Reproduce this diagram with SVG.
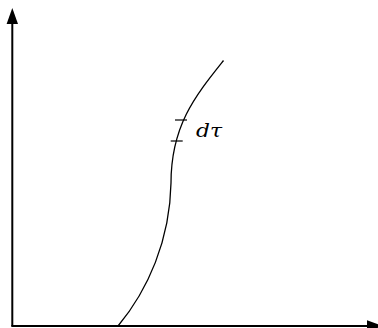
<svg xmlns="http://www.w3.org/2000/svg" width="378" height="328" viewBox="0 0 378 328">
<style>
.axis{stroke:#000;stroke-width:2;fill:none}
.curve{stroke:#000;stroke-width:1.3;fill:none}
.tick{stroke:#000;stroke-width:1.2}
.head{fill:#000}
.lbl{font-family:"DejaVu Serif","Liberation Serif",serif;font-style:italic;font-size:18px;fill:#000}
</style>
<rect width="378" height="328" fill="#fff"/>
<g id="axes">
<line class="axis" x1="12.3" y1="326" x2="12.3" y2="22"/>
<polygon class="head" points="12.3,8 6.6,24 18,24"/>
<line class="axis" x1="11.3" y1="326" x2="369" y2="326"/>
<polygon class="head" points="383,326 367,320.3 367,331.7"/>
</g>
<g id="curve">
<path class="curve" d="M118,326 C148,290 170,240 171,183 C171,125 196,95 223.5,60.5"/>
</g>
<g id="ticks">
<line class="tick" x1="175" y1="120" x2="187" y2="120"/>
<line class="tick" x1="170.7" y1="141" x2="182.7" y2="141"/>
</g>
<g id="label">
<text class="lbl" x="196" y="137" textLength="26" lengthAdjust="spacingAndGlyphs">dτ</text>
</g>
</svg>
